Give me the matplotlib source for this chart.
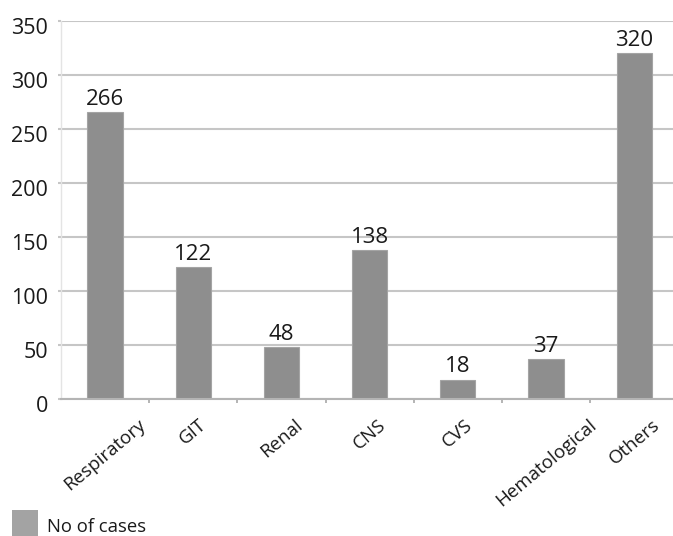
import matplotlib
matplotlib.use("Agg")
import matplotlib.pyplot as plt
from matplotlib.patches import Rectangle
from matplotlib.transforms import ScaledTranslation

categories = ["Respiratory", "GIT", "Renal", "CNS", "CVS", "Hematological", "Others"]
cases = [266, 122, 48, 138, 18, 37, 320]
y_ticks = [0, 50, 100, 150, 200, 250, 300, 350]
series_name = "No of cases"

plt.rcParams["font.family"] = ["Open Sans", "DejaVu Sans"]

W, H = 673, 536
fig = plt.figure(figsize=(W / 100, H / 100), dpi=100)
left, right, top, bottom = 61, 673, 21, 399
ax = fig.add_axes([left / W, 1 - bottom / H, (right - left) / W, (bottom - top) / H])

bar_color = "#8e8e8e"
grid_color = "#c6c6c6"
text_color = "#1a1a1a"

x = list(range(len(categories)))
ax.bar(x, cases, width=0.4, color=bar_color, edgecolor="#a4a4a4",
       linewidth=0.8, zorder=3)

for xi, v in zip(x, cases):
    ax.annotate(str(v), (xi, v), xytext=(0, 1.5), textcoords="offset points",
                ha="center", va="bottom", fontsize=16, color=text_color, zorder=4)

ax.set_xlim(-0.5, 6.44)
ax.set_ylim(0, 350)
ax.set_yticks(y_ticks)
ax.set_yticklabels([str(t) for t in y_ticks], fontsize=15.5, color=text_color)
ax.yaxis.grid(True, color=grid_color, linewidth=1.5, zorder=0)
ax.tick_params(axis="y", length=2.2, width=1.5, color=grid_color, pad=7)
shift = ScaledTranslation(0, -5 / 100, fig.dpi_scale_trans)
for lbl in ax.get_yticklabels():
    lbl.set_transform(lbl.get_transform() + shift)

# category labels at bar centres, tick marks at category boundaries
ax.set_xticks(x)
ax.set_xticklabels(categories, rotation=40, ha="center", va="top",
                   fontsize=13.5, color=text_color)
ax.tick_params(axis="x", which="major", length=0, pad=12)
ax.set_xticks([i + 0.5 for i in x[:-1]], minor=True)
ax.tick_params(axis="x", which="minor", length=3, width=1.2, color="#a8a8a8")

for s in ["top", "right"]:
    ax.spines[s].set_visible(False)
ax.spines["left"].set_color("#e4e4e4")
ax.spines["left"].set_linewidth(1.0)
ax.spines["bottom"].set_color("#b4b4b4")
ax.spines["bottom"].set_linewidth(1.5)
ax.spines["bottom"].set_zorder(5)

# legend swatch and label
fig.patches.append(Rectangle((12 / W, 0), 26 / W, 26 / H, transform=fig.transFigure,
                             facecolor="#a3a3a3", edgecolor="none"))
fig.text(47 / W, 1 - 527 / H, series_name, fontsize=13.3, color=text_color,
         ha="left", va="center")

fig.savefig("out.png", dpi=100)
